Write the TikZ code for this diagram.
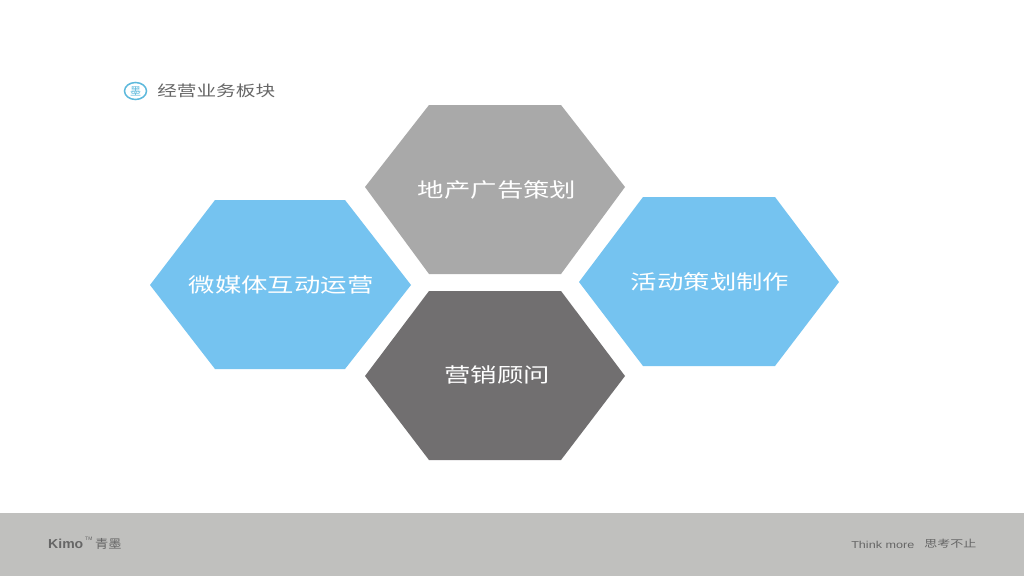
\documentclass[tikz,border=0pt]{standalone}
\usepackage{fontspec}
\setmainfont{Liberation Sans}
\newfontfamily\cjk{Noto Sans CJK SC}
\definecolor{skyhex}{HTML}{75C3F0}
\definecolor{grayhex}{HTML}{A9A9A9}
\definecolor{darkhex}{HTML}{716F70}
\definecolor{band}{HTML}{C0C0BE}
\definecolor{inkgray}{HTML}{666666}
\definecolor{teal}{HTML}{5DB9DC}
\tikzset{
  hexlabel/.style={text=white,font=\cjk\fontsize{20}{24}\selectfont,xscale=1.32,inner sep=0pt},
  title/.style={text=inkgray,font=\cjk\fontsize{15}{18}\selectfont,xscale=1.31,inner sep=0pt,anchor=west},
  foot/.style={text=inkgray,inner sep=0pt,anchor=west},
}
\begin{document}
\begin{tikzpicture}[x=1pt,y=-1pt]
\useasboundingbox (0,0) rectangle (1024,576);
\fill[white] (0,0) rectangle (1024,576);
\fill[band] (0,513) rectangle (1024,576);
\fill[grayhex] (365,187)--(429,105)--(561,105)--(625,187)--(561,274)--(429,274)--cycle;
\fill[skyhex] (150,285)--(215,200)--(345,200)--(411,285)--(345,369)--(215,369)--cycle;
\fill[skyhex] (579,282)--(643,197)--(775,197)--(839,282)--(775,366)--(643,366)--cycle;
\fill[darkhex] (365,376)--(429,291)--(561,291)--(625,376)--(561,460)--(429,460)--cycle;
\node[hexlabel] (a) at (497,190) {地产广告策划};
\node[hexlabel] (b) at (281,285) {微媒体互动运营};
\node[hexlabel] (c) at (710,282) {活动策划制作};
\node[hexlabel] (d) at (497,375) {营销顾问};
\draw[teal,line width=1.5pt,fill=white] (135.5,91) ellipse (11 and 8.5);
\node[text=teal,font=\cjk\fontsize{11}{12}\selectfont,inner sep=0pt] (i) at (135.5,91) {墨};
\node[title] (t) at (157,90.5) {经营业务板块};
\node[foot,font=\bfseries\fontsize{13}{15}\selectfont,xscale=1.08] (k) at (48,544) {Kimo};
\node[foot,font=\fontsize{5}{6}\selectfont] (tm) at (85,539) {TM};
\node[foot,font=\cjk\fontsize{12}{14}\selectfont,xscale=1.1] (q) at (95,544) {青墨};
\node[foot,font=\fontsize{10}{12}\selectfont,xscale=1.26] (m) at (851,544.5) {Think more};
\node[foot,font=\cjk\fontsize{10}{12}\selectfont,xscale=1.3] (s) at (924,544) {思考不止};
\end{tikzpicture}
\end{document}
